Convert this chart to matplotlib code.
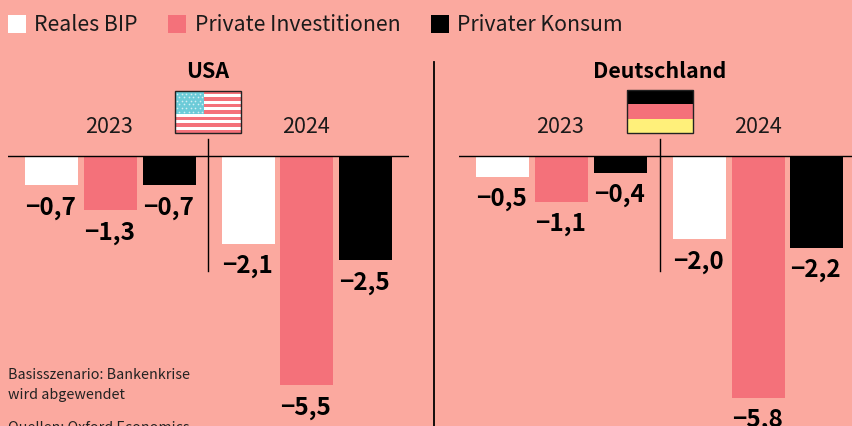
import matplotlib
matplotlib.use("Agg")
import matplotlib.pyplot as plt
from matplotlib.patches import Rectangle

plt.rcParams["font.family"] = ["Noto Sans CJK SC", "DejaVu Sans"]

BG = "#FBA99F"
PINK = "#F4717A"
WHITE = "#FFFFFF"
BLACK = "#000000"

series_names = ["Reales BIP", "Private Investitionen", "Privater Konsum"]
series_colors = [WHITE, PINK, BLACK]
years = ["2023", "2024"]
usa_values = [-0.7, -1.3, -0.7, -2.1, -5.5, -2.5]
de_values = [-0.5, -1.1, -0.4, -2.0, -5.8, -2.2]
usa_labels = ["−0,7", "−1,3", "−0,7", "−2,1", "−5,5", "−2,5"]
de_labels = ["−0,5", "−1,1", "−0,4", "−2,0", "−5,8", "−2,2"]

W, H = 852, 426
fig = plt.figure(figsize=(W / 100, H / 100), dpi=100, facecolor=BG)

# overlay in pixel coordinates for legend, flags, notes
ov = fig.add_axes([0, 0, 1, 1], zorder=3)
ov.set_xlim(0, W)
ov.set_ylim(H, 0)
ov.axis("off")


def panel(left, right, bar_x, values, labels):
    ax = fig.add_axes([left / W, 0, (right - left) / W, 1], zorder=2)
    ax.patch.set_alpha(0)
    ax.axis("off")
    ax.set_xlim(left, right)
    # baseline at y=156 px, 41.7 px per point
    ax.set_ylim(-(H - 156) / 41.7, 156 / 41.7)
    ax.axhline(0, color=BLACK, lw=1, zorder=4)
    colors = series_colors * 2
    ax.bar(bar_x, values, width=53.5, color=colors, zorder=3)
    for x, v, lab in zip(bar_x, values, labels):
        ax.text(x - 1, v - 0.54, lab, ha="center", va="center", fontsize=17.5,
                fontweight="bold", color=BLACK, zorder=5, clip_on=False)


usa_x = [51.5, 110.5, 169.5, 248.5, 306.5, 365.5]
de_x = [502.5, 561.5, 620.5, 699.5, 758.5, 816.5]
panel(8, 409, usa_x, usa_values, usa_labels)
panel(459, 852, de_x, de_values, de_labels)

# legend
for x, name, col, tx in zip([8, 168, 431], series_names, series_colors, [34, 195, 457]):
    ov.add_patch(Rectangle((x, 15), 17.5, 17.5, color=col, lw=0))
    ov.text(tx, 25, name, va="center", ha="left", fontsize=15.3, color="#1a1a1a")

# panel titles and years
ov.text(208, 72, "USA", ha="center", va="center", fontsize=15.4, fontweight="bold", color=BLACK)
ov.text(659.5, 72, "Deutschland", ha="center", va="center", fontsize=15.4, fontweight="bold", color=BLACK)
for x, y in zip([109.5, 305.5, 560.5, 757.5], years * 2):
    ov.text(x, 127, y, ha="center", va="center", fontsize=15.5, color="#1a1a1a")

# dividers
ov.plot([434, 434], [62, H], color=BLACK, lw=1.3)
for x in [208, 660]:
    ov.plot([x, x], [139, 271], color=BLACK, lw=1, zorder=1)

# US flag
fx, fy, fw, fh = 175, 91, 66, 42
ov.add_patch(Rectangle((fx, fy), fw, fh, fc=PINK, ec="none"))
for i in range(1, 13, 2):
    ov.add_patch(Rectangle((fx, fy + i * fh / 13), fw, fh / 13, fc=WHITE, ec="none"))
ov.add_patch(Rectangle((fx, fy), 28.5, 23, fc="#6CCBD8", ec="none"))
sx = [fx + 2 + 4.6 * j + (2.3 if r % 2 else 0) for r in range(6) for j in range(6)]
sy = [fy + 2.5 + 3.6 * r for r in range(6) for j in range(6)]
ov.scatter(sx, sy, s=1.5, color=WHITE, alpha=0.7, lw=0)
ov.add_patch(Rectangle((fx, fy), fw, fh, fc="none", ec="#222222", lw=1))

# German flag
gx, gy, gw, gh = 626.5, 90, 66, 43
for i, c in enumerate([BLACK, PINK, "#FFF07A"]):
    ov.add_patch(Rectangle((gx, gy + i * gh / 3), gw, gh / 3, fc=c, ec="none"))
ov.add_patch(Rectangle((gx, gy), gw, gh, fc="none", ec="#222222", lw=1))

# notes
for y, line in zip([375, 395, 428], ["Basisszenario: Bankenkrise", "wird abgewendet", "Quellen: Oxford Economics"]):
    ov.text(8, y, line, va="center", ha="left", fontsize=10.3, color="#222222")

fig.savefig("out.png", dpi=100, facecolor=BG)
